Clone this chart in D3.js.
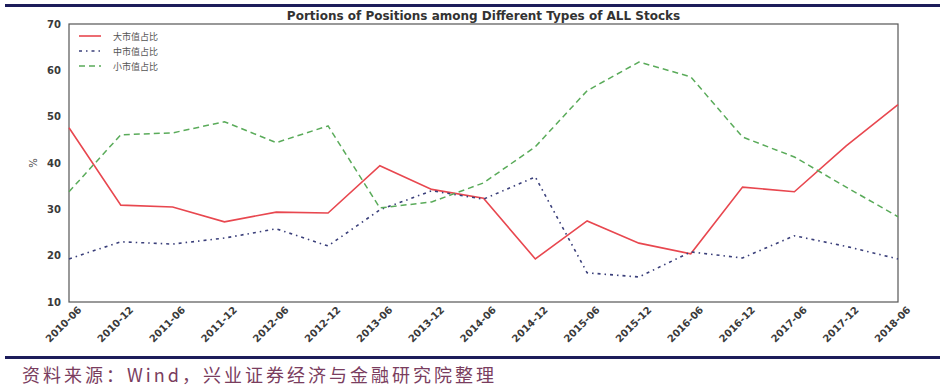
<!DOCTYPE html>
<html lang="en">
<head>
<meta charset="utf-8">
<title>Portions of Positions</title>
<script src="https://cdn.jsdelivr.net/npm/d3@7/dist/d3.min.js"></script>
<style>
    body { margin: 0; background: #fff; }
    .axis text { font-family: "DejaVu Sans", sans-serif; font-size: 10px; fill: #3a3a3a; font-weight: bold; }
    .axis path, .axis line { stroke: #444; }
    .line { fill: none; }
</style>
</head>
<body>
<div id="chart"></div>
<script>

var periods = ["2010-06","2010-12","2011-06","2011-12","2012-06","2012-12","2013-06","2013-12",
               "2014-06","2014-12","2015-06","2015-12","2016-06","2016-12","2017-06","2017-12","2018-06"];

var largeCap = [47.6, 30.9, 30.5, 27.3, 29.4, 29.2, 39.4, 34.3, 32.4, 19.3, 27.5, 22.7, 20.4, 34.8, 33.8, 43.7, 52.6];
var midCap   = [19.3, 23.0, 22.5, 23.8, 25.8, 22.1, 29.9, 34.0, 32.2, 37.0, 16.3, 15.4, 20.8, 19.5, 24.3, 22.0, 19.3];
var smallCap = [33.8, 46.1, 46.5, 48.9, 44.4, 48.0, 30.3, 31.6, 35.7, 43.5, 55.6, 61.8, 58.6, 45.6, 41.3, 34.8, 28.4];

var seriesNames = ["大市值占比", "中市值占比", "小市值占比"];
var yTicks = [10, 20, 30, 40, 50, 60, 70];

var W = 944, H = 388;
var margin = {top: 24, right: 46, bottom: 86, left: 69},
    width = 898 - margin.left,
    height = 302 - margin.top;

var svg = d3.select("#chart").append("svg")
    .attr("width", W)
    .attr("height", H);

// navy rules top and bottom
svg.append("rect").attr("x", 5).attr("y", 4).attr("width", 935).attr("height", 3).attr("fill", "#1c1c5a");
svg.append("rect").attr("x", 5).attr("y", 356).attr("width", 935).attr("height", 3).attr("fill", "#1c1c5a");

var g = svg.append("g")
    .attr("transform", "translate(" + margin.left + "," + margin.top + ")");

var x = d3.scalePoint().domain(periods).range([0, width]);
var y = d3.scaleLinear().domain([10, 70]).range([height, 0]);

// title
svg.append("text")
    .attr("x", margin.left + width / 2)
    .attr("y", 20)
    .attr("text-anchor", "middle")
    .style("font-family", "DejaVu Sans, sans-serif")
    .style("font-size", "12px")
    .style("font-weight", "bold")
    .style("fill", "#333")
    .text("Portions of Positions among Different Types of ALL Stocks");

// axes
g.append("g")
    .attr("class", "axis")
    .call(d3.axisLeft(y).tickValues(yTicks).tickSize(0).tickPadding(8))
    .call(function(s) { s.select(".domain").remove(); });

g.append("g")
    .attr("class", "axis")
    .attr("transform", "translate(0," + height + ")")
    .call(d3.axisBottom(x).tickSize(0).tickPadding(6))
    .call(function(s) { s.select(".domain").remove(); })
    .selectAll("text")
    .attr("text-anchor", "end")
    .attr("dx", "0.3em")
    .attr("dy", "0.9em")
    .attr("transform", "rotate(-45)");

// plot frame
g.append("rect")
    .attr("width", width)
    .attr("height", height)
    .attr("fill", "none")
    .attr("stroke", "#555")
    .attr("stroke-width", 1.2);

// y label
g.append("text")
    .attr("transform", "translate(-32," + y(40) + ") rotate(-90)")
    .attr("text-anchor", "middle")
    .style("font-family", "DejaVu Sans, sans-serif")
    .style("font-size", "10px")
    .style("fill", "#444")
    .text("%");

var series = [
    {name: seriesNames[0], values: largeCap, color: "#e8474f", dash: null, w: 1.6},
    {name: seriesNames[1], values: midCap,   color: "#3a3f7a", dash: "3,4,1.5,4", w: 1.6},
    {name: seriesNames[2], values: smallCap, color: "#5aab5a", dash: "6,4", w: 1.5}
];

var line = d3.line()
    .x(function(d, i) { return x(periods[i]); })
    .y(function(d) { return y(d); });

series.forEach(function(s) {
    g.append("path")
        .datum(s.values)
        .attr("class", "line")
        .attr("stroke", s.color)
        .attr("stroke-width", s.w)
        .attr("stroke-dasharray", s.dash)
        .attr("d", line);
});

// legend
var legend = g.append("g").attr("transform", "translate(10,12)");
series.forEach(function(s, i) {
    var row = legend.append("g").attr("transform", "translate(0," + (i * 15) + ")");
    row.append("line")
        .attr("x1", 0).attr("x2", 22)
        .attr("stroke", s.color)
        .attr("stroke-width", s.w)
        .attr("stroke-dasharray", s.dash);
    row.append("text")
        .attr("x", 34)
        .attr("y", 4)
        .style("font-family", "Noto Sans CJK SC, sans-serif")
        .style("font-size", "9px")
        .style("fill", "#555")
        .text(s.name);
});

// source note
svg.append("text")
    .attr("x", 22)
    .attr("y", 382)
    .style("font-family", "Noto Sans CJK SC, sans-serif")
    .style("font-size", "18px")
    .style("letter-spacing", "3px")
    .style("fill", "#7a3d5e")
    .text("资料来源：Wind，兴业证券经济与金融研究院整理");

</script>
</body>
</html>
